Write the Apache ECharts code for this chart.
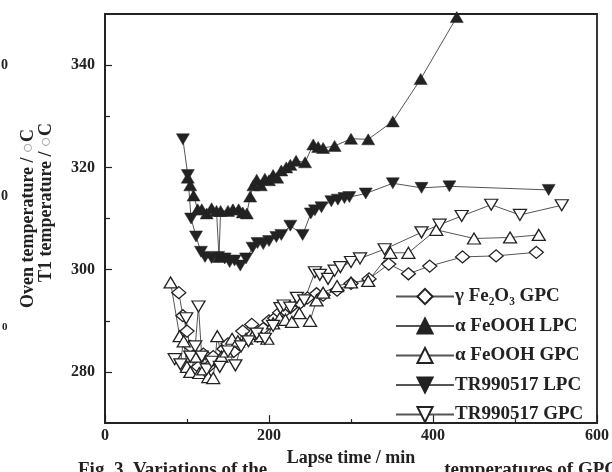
<!DOCTYPE html>
<html>
<head>
<meta charset="utf-8">
<script src="https://cdn.jsdelivr.net/npm/echarts@6/dist/echarts.min.js"></script>
<style>
  html, body { margin: 0; padding: 0; background: #fff; }
  #chart { width: 612px; height: 472px; }
</style>
</head>
<body>
<div id="chart"></div>
<script>
// axis ticks
const xTicks = [0, 200, 400, 600]
const yTicks = [280, 300, 320, 340]
const yMinorTicks = [290, 310, 330]

// [lapse time / min, temperature / °C]
const gammaFe2O3GPC = [
  [90, 295.5], [95, 291], [100, 288], [104, 285], [108, 283], [114, 281], [120, 283.5],
  [126, 281], [132, 283], [138, 282], [145, 284.5], [150, 285.5], [157, 284], [163, 285.5],
  [168, 288], [179, 289.3], [186, 287], [193, 288.5], [200, 290], [207, 290.5], [213, 291.6],
  [220, 292], [226, 292.6], [238, 293.5], [247, 294.5], [258, 295.3], [266, 295], [283, 296],
  [300, 297.3], [322, 298.2], [346, 301.1], [370, 299.2], [396, 300.7], [436, 302.5],
  [477, 302.7], [526, 303.4]
]
const alphaFeOOHLPC = [
  [101, 318], [104, 316.5], [108, 314.5], [113, 311.8], [118, 311.8], [124, 311], [130, 312],
  [136, 311.5], [139, 302.5], [141, 311.5], [150, 311.5], [156, 311.8], [163, 311.8],
  [168, 311.2], [173, 311], [177, 314.3], [181, 316.5], [185, 317.6], [190, 316.5], [195, 317.8],
  [200, 317.5], [205, 318.5], [210, 318], [215, 319.4], [221, 320], [226, 320.5], [233, 321.3],
  [244, 321], [254, 324.5], [260, 324], [266, 323.8], [280, 324.2], [300, 325.6], [321, 325.5],
  [351, 329], [385, 337.3], [429, 349.4]
]
const alphaFeOOHGPC = [
  [80, 297.5], [91, 287], [96, 286], [100, 281], [104, 280], [110, 283], [115, 279.8],
  [120, 280.5], [126, 279], [132, 278.8], [137, 287], [142, 283], [148, 284], [155, 286.5],
  [162, 286], [172, 286.5], [182, 287.5], [190, 287], [198, 286.5], [205, 289.5], [213, 290.5],
  [220, 290.2], [228, 289.8], [237, 291.5], [250, 290], [258, 294], [266, 295.5], [283, 296.8],
  [300, 297.5], [321, 297.8], [348, 303.3], [370, 303.3], [404, 307.8], [450, 306.1],
  [494, 306.3], [529, 306.8]
]
const tr990517LPC = [
  [95, 325.5], [101, 318.5], [105, 310], [111, 306.5], [117, 303.5], [122, 302.5], [130, 302.3],
  [138, 302.5], [146, 302.2], [152, 301.5], [158, 301.8], [165, 300.8], [172, 302.2],
  [180, 304.3], [186, 305.2], [193, 305], [200, 305.6], [209, 306.4], [215, 306.8], [226, 308.6],
  [241, 306.8], [251, 311], [256, 311.6], [264, 312.2], [276, 313.4], [284, 313.7], [292, 314],
  [298, 314.2], [318, 314.9], [351, 316.9], [386, 316], [420, 316.3], [541, 315.6]
]
const tr990517GPC = [
  [85, 282.5], [92, 281.5], [99, 290.5], [104, 283], [110, 285], [114, 292.8], [118, 283],
  [124, 280.5], [130, 282], [140, 281], [150, 284], [159, 281.3], [166, 285], [175, 286],
  [185, 287.5], [195, 286.5], [205, 289], [214, 292.5], [218, 293], [226, 292.6], [234, 294.5],
  [243, 294], [256, 299.5], [262, 299], [272, 298.2], [280, 299.8], [287, 300.5], [300, 301.5],
  [311, 302.2], [341, 304], [386, 307.3], [408, 308.8], [435, 310.5], [471, 312.7],
  [506, 310.7], [557, 312.6]
]

const serif = '"Liberation Serif", "Times New Roman", serif'
const ink = '#222'
const downTri = 'path://M0,0L10,0L5,9Z'

const makeSeries = (name, data, symbol, filled, size) => ({
  name,
  type: 'line',
  data,
  symbol,
  symbolSize: size,
  showAllSymbol: true,
  clip: false,
  lineStyle: { color: '#555', width: 1 },
  itemStyle: {
    color: filled ? ink : '#fff',
    borderColor: ink,
    borderWidth: filled ? 0.5 : 1.3
  },
  emphasis: { disabled: true }
})

const chart = echarts.init(document.getElementById('chart'))

chart.setOption({
  animation: false,
  backgroundColor: '#fff',
  grid: {
    left: 105,
    right: 15,
    top: 14,
    bottom: 40,
    show: true,
    borderColor: ink,
    borderWidth: 1.8,
    backgroundColor: 'transparent'
  },
  xAxis: {
    type: 'value',
    min: 0,
    max: 600,
    interval: 200,
    name: 'Lapse time / min',
    nameLocation: 'middle',
    nameGap: 15,
    nameTextStyle: { fontFamily: serif, fontWeight: 'bold', fontSize: 18, color: ink },
    axisLine: { lineStyle: { color: ink, width: 1.8 } },
    axisTick: { inside: true, length: 8, lineStyle: { color: ink, width: 1.2 } },
    minorTick: { show: true, splitNumber: 2, length: 4, lineStyle: { color: ink, width: 1.2 } },
    splitLine: { show: false },
    axisLabel: {
      margin: 5,
      fontFamily: serif, fontWeight: 'bold', fontSize: 16, color: ink,
      customValues: xTicks
    }
  },
  yAxis: [
    {
      type: 'value',
      min: 270,
      max: 350,
      name: 'T1 temperature / {c|○}C',
      nameLocation: 'middle',
      nameRotate: 90,
      nameGap: 50,
      nameTextStyle: {
        fontFamily: serif, fontWeight: 'bold', fontSize: 18, color: ink,
        padding: [0, 0, 0, 32],
        rich: { c: { fontFamily: serif, fontSize: 18, color: '#999' } }
      },
      axisLine: { show: true, lineStyle: { color: ink, width: 1.8 } },
      axisTick: { inside: true, length: 7, customValues: yTicks, lineStyle: { color: ink, width: 1.2 } },
      splitLine: { show: false },
      axisLabel: {
        margin: 10,
        fontFamily: serif, fontWeight: 'bold', fontSize: 16, color: ink,
        customValues: yTicks
      }
    },
    {
      // minor ticks and outer axis title
      type: 'value',
      position: 'left',
      min: 270,
      max: 350,
      name: 'Oven temperature / {c|○}C',
      nameLocation: 'middle',
      nameRotate: 90,
      nameGap: 68,
      nameTextStyle: {
        fontFamily: serif, fontWeight: 'bold', fontSize: 18, color: ink,
        rich: { c: { fontFamily: serif, fontSize: 18, color: '#999' } }
      },
      axisLine: { show: false },
      axisTick: { show: true, inside: true, length: 5, customValues: yMinorTicks, lineStyle: { color: ink, width: 1.2 } },
      splitLine: { show: false },
      axisLabel: { show: false }
    }
  ],
  legend: {
    left: 390,
    top: 282,
    orient: 'vertical',
    itemWidth: 58,
    itemHeight: 19,
    itemGap: 10.5,
    selectedMode: false,
    textStyle: { fontFamily: serif, fontWeight: 'bold', fontSize: 19, color: ink, lineHeight: 19, padding: [0, 0, 0, -4] },
    data: ['γ Fe₂O₃ GPC', 'α FeOOH LPC', 'α FeOOH GPC', 'TR990517 LPC', 'TR990517 GPC']
  },
  graphic: [
    // cut-off labels of the outer axis at the left edge
    { type: 'text', left: 1, top: 58, style: { text: '0', font: 'bold 14px ' + serif, fill: ink } },
    { type: 'text', left: 1, top: 189, style: { text: '0', font: 'bold 14px ' + serif, fill: ink } },
    { type: 'text', left: 2, top: 322, style: { text: '0', font: 'bold 11px ' + serif, fill: ink } },
    // caption, partly below the picture
    { type: 'text', left: 78, top: 461, z: -1, style: { text: 'Fig. 3  Variations of the', font: 'bold 19px ' + serif, fill: ink } },
    { type: 'text', right: -6, top: 461, z: -1, style: { text: 'temperatures of GPC', font: 'bold 19px ' + serif, fill: ink } }
  ],
  series: [
    makeSeries('γ Fe₂O₃ GPC', gammaFe2O3GPC, 'diamond', false, [14, 12]),
    makeSeries('α FeOOH LPC', alphaFeOOHLPC, 'triangle', true, [13, 11]),
    makeSeries('α FeOOH GPC', alphaFeOOHGPC, 'triangle', false, [13, 11]),
    makeSeries('TR990517 LPC', tr990517LPC, downTri, true, [13, 11]),
    makeSeries('TR990517 GPC', tr990517GPC, downTri, false, [13, 11])
  ]
})
</script>
</body>
</html>
